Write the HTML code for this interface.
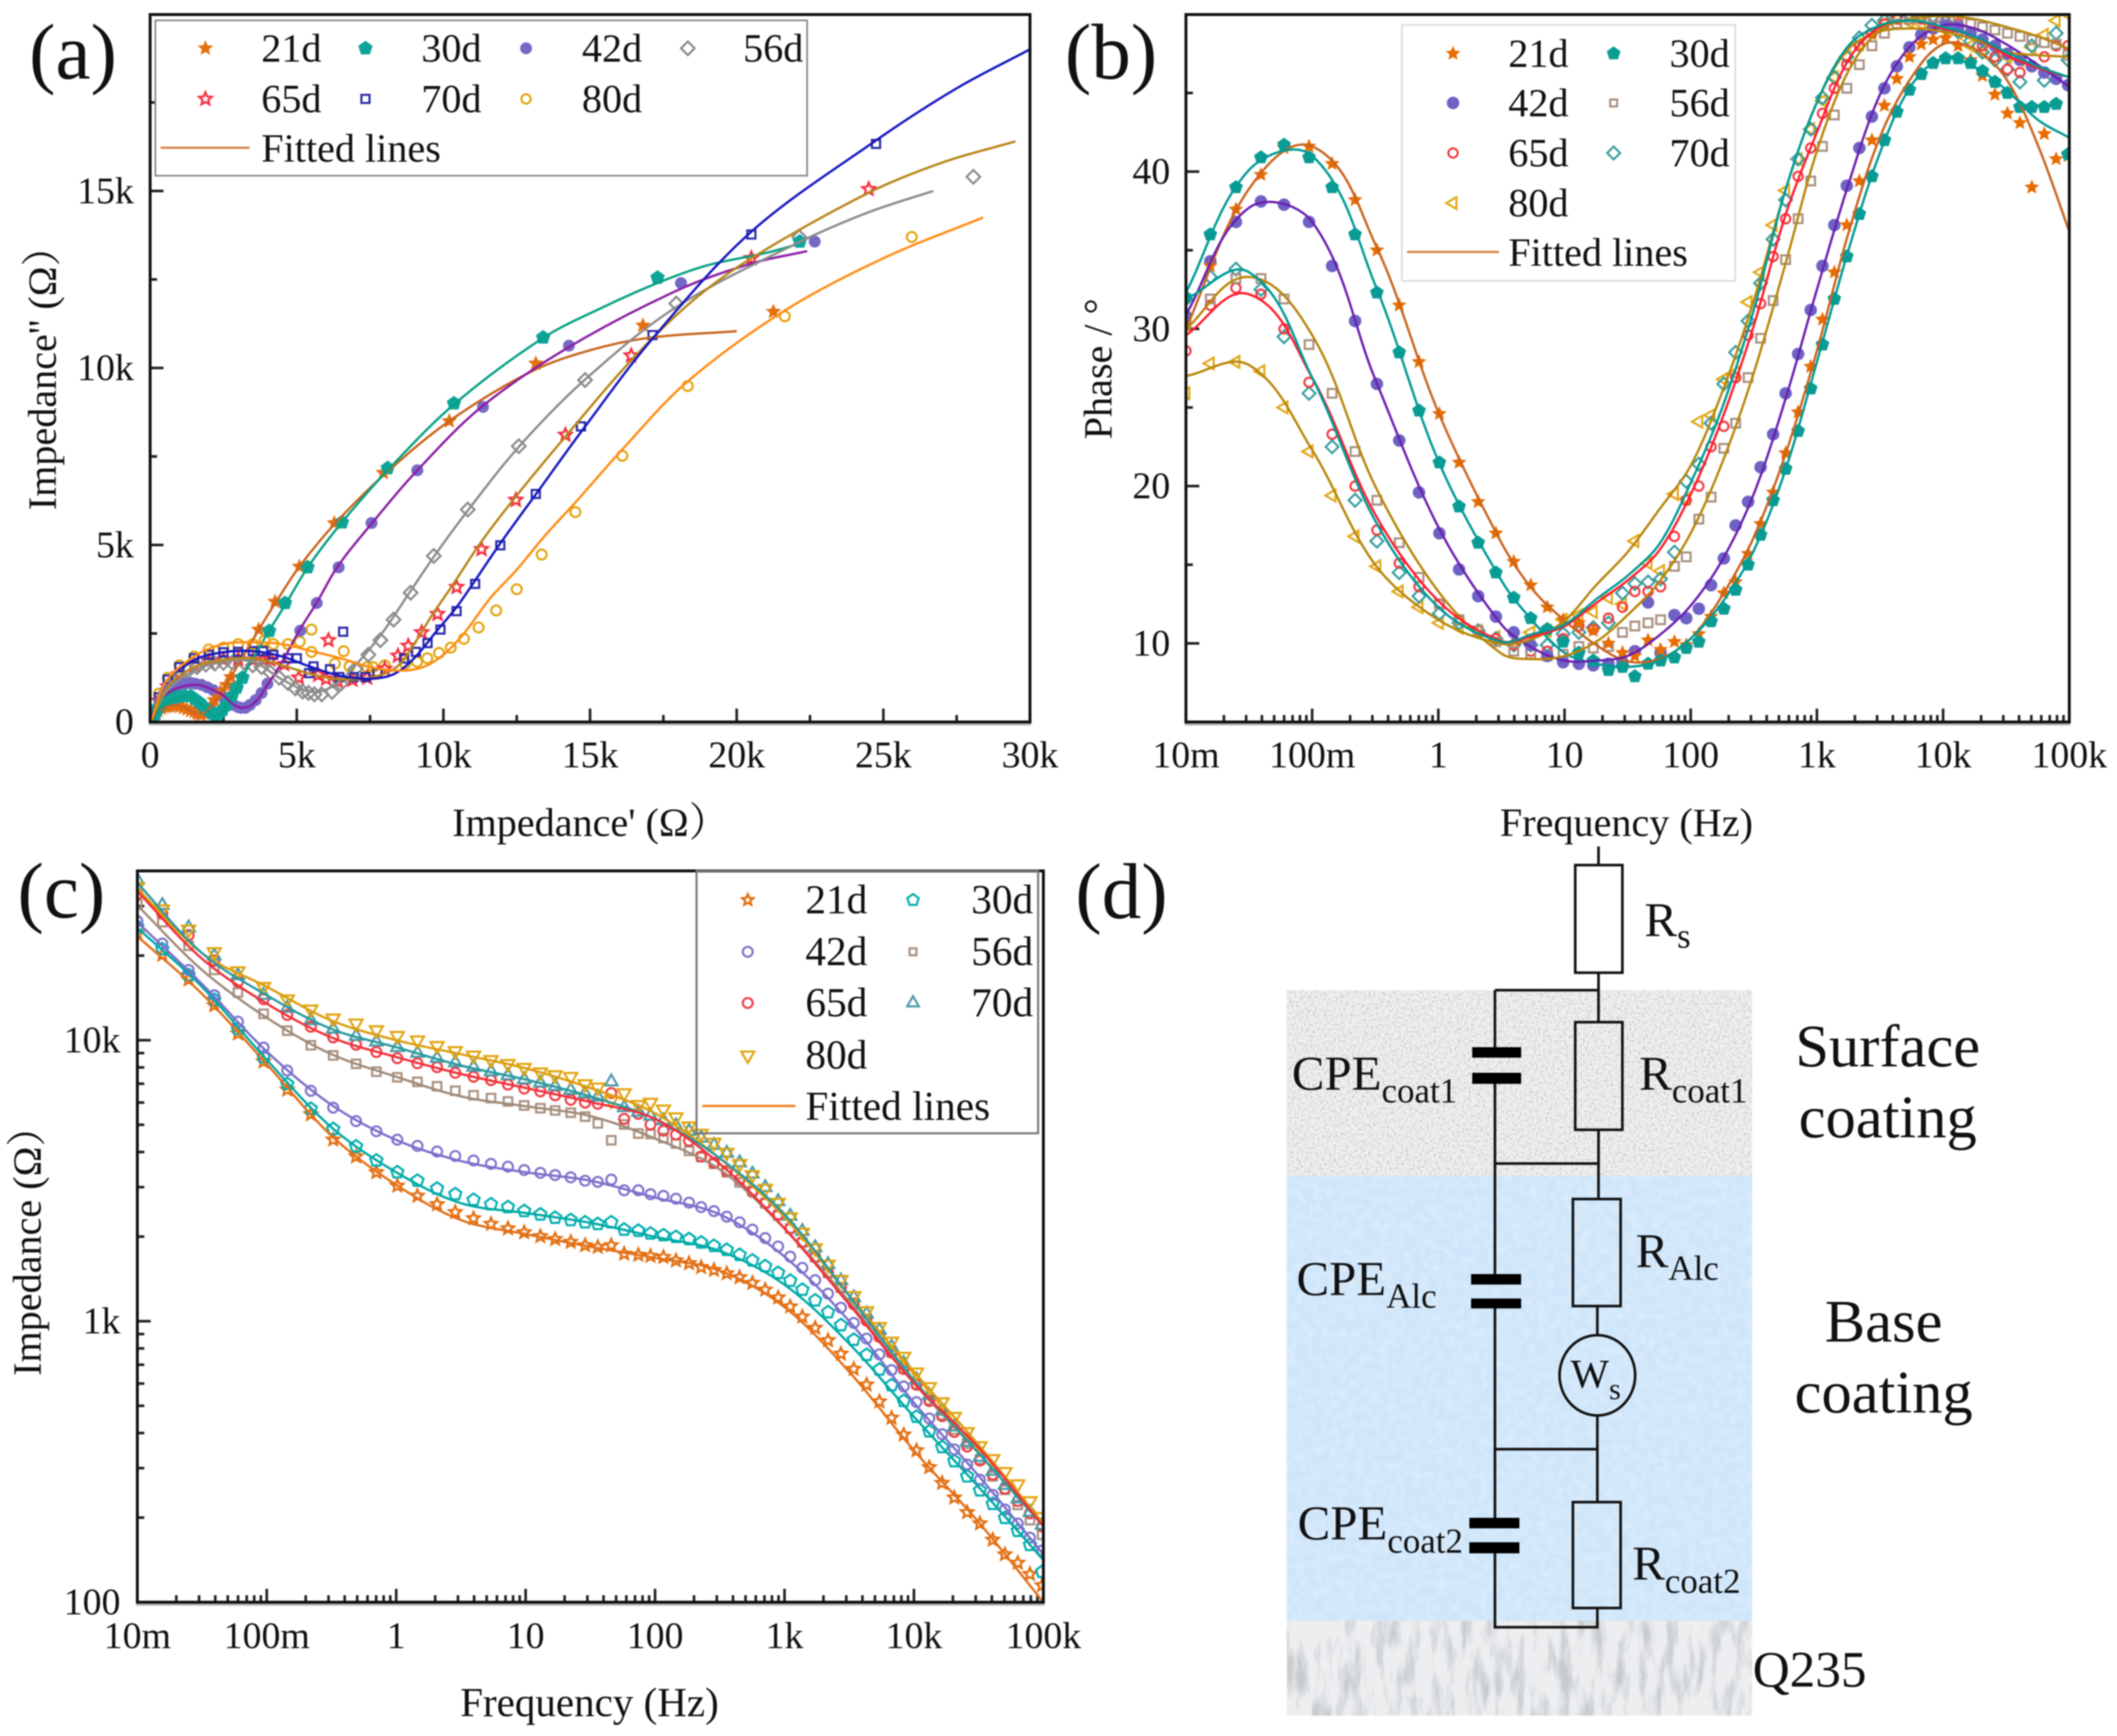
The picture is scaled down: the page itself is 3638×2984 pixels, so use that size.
<!DOCTYPE html>
<html lang="en">
<head>
<meta charset="utf-8">
<title>EIS chart panels</title>
<style>
html,body{margin:0;padding:0;background:#fff;width:3638px;height:2984px;overflow:hidden}
svg{display:block;filter:blur(1.1px)}
text{font-family:"Liberation Serif","Noto Serif CJK SC",serif;fill:#111}
.t{font-size:65px}
.a{font-size:69px}
.l{font-size:69px}
.lc{font-size:71px}
.p{font-size:136px}
</style>
</head>
<body>
<svg xmlns="http://www.w3.org/2000/svg" width="3638" height="2984" viewBox="0 0 3638 2984">
<defs>
<clipPath id="clipA"><rect x="258" y="25" width="1512" height="1216"/></clipPath>
<clipPath id="clipB"><rect x="2038" y="25" width="1518" height="1216"/></clipPath>
<clipPath id="clipC"><rect x="236" y="1497" width="1557" height="1257"/></clipPath>
<filter id="grain" x="0" y="0" width="100%" height="100%"><feTurbulence type="fractalNoise" baseFrequency="0.25" numOctaves="2" seed="3"/><feColorMatrix type="matrix" values="0 0 0 0 0.5 0 0 0 0 0.5 0 0 0 0 0.5 2 0 0 0 -0.9"/></filter>
<filter id="ripple" x="0" y="0" width="100%" height="100%"><feTurbulence type="fractalNoise" baseFrequency="0.07" numOctaves="3" seed="8"/><feColorMatrix type="matrix" values="0 0 0 0 1 0 0 0 0 1 0 0 0 0 1 1.6 0 0 0 -0.6"/></filter>
<filter id="marble" x="0" y="0" width="100%" height="100%"><feTurbulence type="fractalNoise" baseFrequency="0.05 0.012" numOctaves="4" seed="5"/><feColorMatrix type="matrix" values="0 0 0 0 0.58 0 0 0 0 0.6 0 0 0 0 0.62 3.2 0 0 0 -1.45"/></filter>
</defs>
<rect x="0" y="0" width="3638" height="2984" fill="#fff"/>

<!-- Panel (a) -->
<g>
<g id="axesA"></g>
<g clip-path="url(#clipA)">
<g id="mA"></g>
<g id="fA"></g>
</g>
<line x1="256" y1="1245" x2="1772" y2="1245" stroke="#b4b4b4" stroke-width="4"/>
<rect x="258" y="25" width="1512" height="1216" fill="none" stroke="#111" stroke-width="5"/>
<text class="p" x="50" y="135">(a)</text>
<text class="a" x="777" y="1437">Impedance' (Ω）</text>
<text class="a" transform="translate(96 877) rotate(-90)">Impedance'' (Ω）</text>
<g>
<rect x="267" y="35" width="1120" height="267" fill="#fff" stroke="#8a8a8a" stroke-width="3"/>
<g id="legA"></g>
<text class="l" x="449" y="106">21d</text>
<text class="l" x="724" y="106">30d</text>
<text class="l" x="1000" y="106">42d</text>
<text class="l" x="1277" y="106">56d</text>
<text class="l" x="449" y="193">65d</text>
<text class="l" x="724" y="193">70d</text>
<text class="l" x="1000" y="193">80d</text>
<line x1="276" y1="254" x2="429" y2="254" stroke="#d8884e" stroke-width="4"/>
<text class="l" x="449" y="278">Fitted lines</text>
</g>
</g>

<!-- Panel (b) -->
<g>
<g id="axesB"></g>
<g clip-path="url(#clipB)">
<g id="mB"></g>
<g id="fB"></g>
</g>
<line x1="2036" y1="1245" x2="3558" y2="1245" stroke="#b4b4b4" stroke-width="4"/>
<rect x="2038" y="25" width="1518" height="1216" fill="none" stroke="#111" stroke-width="5"/>
<text class="p" x="1830" y="135">(b)</text>
<text class="a" x="2795" y="1437" text-anchor="middle">Frequency (Hz)</text>
<text class="a" transform="translate(1910 634) rotate(-90)" text-anchor="middle">Phase / °</text>
<g>
<rect x="2409" y="43" width="573" height="440" fill="#fff" stroke="#dcdcdc" stroke-width="3"/>
<g id="legB"></g>
<text class="l" x="2592" y="115">21d</text>
<text class="l" x="2869" y="115">30d</text>
<text class="l" x="2592" y="200">42d</text>
<text class="l" x="2869" y="200">56d</text>
<text class="l" x="2592" y="286">65d</text>
<text class="l" x="2869" y="286">70d</text>
<text class="l" x="2592" y="372">80d</text>
<line x1="2418" y1="433" x2="2576" y2="433" stroke="#d8884e" stroke-width="4"/>
<text class="l" x="2592" y="457">Fitted lines</text>
</g>
</g>

<!-- Panel (c) -->
<g>
<g id="axesC"></g>
<g clip-path="url(#clipC)">
<g id="mC"></g>
<g id="fC"></g>
</g>
<line x1="234" y1="2758" x2="1795" y2="2758" stroke="#b4b4b4" stroke-width="4"/>
<rect x="236" y="1497" width="1557" height="1257" fill="none" stroke="#111" stroke-width="5"/>
<text class="p" x="30" y="1577">(c)</text>
<text class="a" style="font-size:70.5px" x="1013" y="2950" text-anchor="middle">Frequency (Hz)</text>
<text class="a" transform="translate(70 2365) rotate(-90)">Impedance (Ω）</text>
<g>
<rect x="1197" y="1497" width="587" height="451" fill="none" stroke="#777" stroke-width="3.5"/>
<g id="legC"></g>
<text class="lc" x="1384" y="1570">21d</text>
<text class="lc" x="1669" y="1570">30d</text>
<text class="lc" x="1384" y="1659">42d</text>
<text class="lc" x="1669" y="1659">56d</text>
<text class="lc" x="1384" y="1747">65d</text>
<text class="lc" x="1669" y="1747">70d</text>
<text class="lc" x="1384" y="1837">80d</text>
<line x1="1207" y1="1901" x2="1367" y2="1901" stroke="#f08020" stroke-width="4"/>
<text class="lc" x="1384" y="1925">Fitted lines</text>
</g>
</g>

<!-- Panel (d) -->
<g>
<text class="p" x="1848" y="1578">(d)</text>
<g>
<rect x="2211" y="1702" width="800" height="319" fill="#f0f0ee"/>
<rect x="2211" y="1702" width="800" height="319" filter="url(#grain)"/>
<rect x="2211" y="2021" width="800" height="765" fill="#cfe6fa"/>
<rect x="2211" y="2021" width="800" height="765" filter="url(#ripple)" opacity="0.35"/>
<rect x="2211" y="2786" width="800" height="163" fill="#eceef0"/>
<rect x="2211" y="2786" width="800" height="163" filter="url(#marble)"/>
</g>
<g fill="none" stroke="#111" stroke-width="4.5">
<path d="M2747 1455V1487M2747 1672V1757M2569 1702H2747M2569 1702V1800M2569 1863V2190M2569 2249V2609M2569 2670V2797H2745V2764M2747 1942V2061M2569 2000H2747M2745 2245V2295M2745 2435V2582M2569 2491H2745"/>
</g>
<g fill="none" stroke="#111" stroke-width="4.5">
<rect x="2707" y="1487" width="81" height="185"/>
<rect x="2707" y="1757" width="81" height="185"/>
<rect x="2703" y="2061" width="82" height="184"/>
<rect x="2703" y="2582" width="82" height="182"/>
<ellipse cx="2745" cy="2364" rx="65" ry="69"/>
</g>
<g fill="#000">
<rect x="2530" y="1800" width="84" height="18"/>
<rect x="2530" y="1844" width="84" height="19"/>
<rect x="2528" y="2190" width="86" height="18"/>
<rect x="2528" y="2232" width="86" height="17"/>
<rect x="2525" y="2609" width="86" height="18"/>
<rect x="2525" y="2651" width="86" height="19"/>
</g>
<g font-size="84">
<text x="2826" y="1609">R<tspan font-size="60" dy="20">s</tspan></text>
<text x="2220" y="1873">CPE<tspan font-size="60" dy="22">coat1</tspan></text>
<text x="2817" y="1873">R<tspan font-size="60" dy="22">coat1</tspan></text>
<text x="2228" y="2226">CPE<tspan font-size="60" dy="22">Alc</tspan></text>
<text x="2811" y="2178">R<tspan font-size="60" dy="22">Alc</tspan></text>
<text x="2699" y="2385" font-size="70">W<tspan font-size="52" dy="20">s</tspan></text>
<text x="2230" y="2646">CPE<tspan font-size="60" dy="23">coat2</tspan></text>
<text x="2805" y="2715">R<tspan font-size="60" dy="23">coat2</tspan></text>
</g>
<g font-size="104" text-anchor="middle">
<text x="3244" y="1833">Surface</text>
<text x="3244" y="1955">coating</text>
<text x="3237" y="2306">Base</text>
<text x="3237" y="2428">coating</text>
</g>
<text x="3012" y="2899" font-size="88">Q235</text>
</g>

<script>
// ---------- Panel (a) data: real / imaginary impedance in kilo-ohm ----------
const nyTicks = [0, 5, 10, 15, 20, 25, 30];
const nyTickLabels = ['0', '5k', '10k', '15k', '20k', '25k', '30k'];
const nyMinorTicks = [2.5, 7.5, 12.5, 17.5, 22.5, 27.5];
const nyYTicks = [0, 5, 10, 15];
const nyYTickLabels = ['0', '5k', '10k', '15k'];
const nyYMinorTicks = [2.5, 7.5, 12.5, 17.5];

const a21x = [.07,.12,.18,.27,.38,.48,.58,.68,.78,.88,1.0,1.13,1.25,1.38,1.5,1.59,1.66,1.74,1.84,1.94,2.05,2.19,2.4,2.6,2.75,3.7,4.26,5.09,6.28,7.95,10.2,13.15,16.8,21.25];
const a21y = [.10,.17,.24,.32,.38,.42,.43,.45,.46,.46,.43,.40,.36,.32,.29,.25,.23,.21,.24,.29,.42,.62,.85,1.05,1.27,2.61,3.4,4.39,5.62,7.04,8.5,10.13,11.2,11.59];
const a30x = [.1,.18,.28,.4,.55,.7,.85,1.0,1.18,1.38,1.52,1.68,1.84,2.0,2.12,2.19,2.24,2.33,2.47,2.6,2.78,2.95,3.15,4.06,4.6,5.37,6.54,8.1,10.36,13.4,17.3,22.15];
const a30y = [.1,.25,.4,.52,.6,.66,.7,.72,.73,.73,.65,.55,.42,.32,.25,.23,.15,.22,.34,.48,.72,.97,1.25,2.57,3.36,4.37,5.64,7.17,9.0,10.86,12.55,13.57];
const a42x = [.1,.2,.32,.46,.62,.8,1.0,1.2,1.4,1.54,1.75,1.95,2.15,2.35,2.5,2.7,2.85,3.0,3.1,3.25,3.4,3.6,3.8,4.0,5.12,5.68,6.43,7.55,9.11,11.35,14.28,18.1,22.66];
const a42y = [.12,.34,.58,.77,.92,1.0,1.05,1.08,1.1,1.08,1.05,.98,.9,.8,.7,.64,.48,.42,.4,.4,.48,.62,.82,1.08,2.58,3.36,4.37,5.62,7.11,8.9,10.63,12.4,13.57];
const a56x = [.1,.25,.45,.7,1.0,1.3,1.6,1.9,2.2,2.5,2.8,3.2,3.5,3.8,4.1,4.4,4.7,4.95,5.2,5.4,5.6,5.85,6.2,6.5,7.0,7.44,7.85,8.3,8.88,9.67,10.83,12.57,14.83,17.94,22.13,28.07];
const a56y = [.1,.35,.7,1.0,1.25,1.45,1.55,1.62,1.65,1.67,1.68,1.68,1.6,1.55,1.4,1.25,1.1,.95,.86,.82,.78,.78,.85,1.08,1.5,1.9,2.31,2.89,3.65,4.69,6.0,7.79,9.66,11.82,13.7,15.4];
const a65x = [.1,.3,.6,1,1.5,2,2.5,3,3.5,3.85,4.1,4.57,5.07,6.08,5.73,6,6.4,6.9,7.4,8,8.45,8.8,9.26,9.8,10.45,11.3,12.47,14.16,16.4,20.5,24.5];
const a65y = [.2,.6,1.0,1.35,1.6,1.72,1.76,1.78,1.75,1.75,1.76,1.63,1.25,2.31,1.33,1.22,1.15,1.19,1.25,1.5,1.87,2.15,2.53,3.05,3.81,4.88,6.27,8.11,10.35,13.1,15.05];
const a70x = [.1,.3,.6,1,1.5,2,2.5,3,3.5,3.85,4.2,4.7,5,5.57,5.42,6.58,6.13,6.45,6.94,7.34,7.75,8.66,9.06,9.46,9.9,10.45,11.08,11.94,13.15,14.69,17.13,20.5,24.75];
const a70y = [.2,.7,1.2,1.55,1.8,1.9,1.97,1.98,2.0,2.0,1.9,1.8,1.8,1.57,1.38,2.55,1.49,1.27,1.27,1.27,1.38,1.79,1.98,2.23,2.61,3.13,3.9,4.99,6.44,8.35,10.93,13.77,16.33];
const a80x = [.1,.3,.6,1,1.5,2,2.5,3,3.5,3.9,4.2,4.7,5.1,5.5,5.5,6.6,6.3,6.8,7.4,7.6,8,8.7,9.1,9.45,9.85,10.25,10.7,11.2,11.8,12.5,13.35,14.5,16.1,18.33,21.64,25.97];
const a80y = [.25,.8,1.25,1.6,1.85,2.05,2.1,2.2,2.2,2.3,2.2,2.2,2.27,2.61,1.98,2,1.65,1.57,1.55,1.55,1.6,1.65,1.7,1.8,1.95,2.1,2.35,2.67,3.15,3.75,4.73,5.93,7.52,9.49,11.46,13.7];

const fa21x = [.05,.35,.87,1.3,1.7,2.2,2.7,3.7,4.3,5.1,6.3,8,10.2,13,15,17,20];
const fa21y = [.05,.33,.48,.36,.22,.55,1.2,2.6,3.4,4.4,5.6,7.0,8.5,9.9,10.5,10.85,11.04];
const fa30x = [.05,.5,1.3,1.8,2.25,2.7,3.2,4,4.6,5.4,6.6,8.2,10.4,13.4,15.4,17.3,19,21,22.1];
const fa30y = [0,.5,.73,.45,.17,.6,1.35,2.5,3.3,4.4,5.7,7.2,9,10.85,11.7,12.4,12.9,13.25,13.5];
const fa42x = [.05,.5,1.5,2.4,3.0,3.5,4.0,4.5,5.1,5.7,6.4,7.6,9.1,11.3,14.3,18,20.5,22.4];
const fa42y = [.02,.75,1.05,.8,.42,.5,1.05,1.7,2.6,3.4,4.4,5.65,7.1,8.9,10.6,12.2,12.95,13.3];
const fa56x = [.05,.6,1.5,2.5,3.5,4.5,5.5,6.2,7,7.9,8.8,9.7,10.9,12.6,14.8,17.9,22,24.5,26.7];
const fa56y = [.1,.9,1.45,1.7,1.7,1.2,.85,1.0,1.6,2.5,3.6,4.7,6.05,7.8,9.65,11.7,13.5,14.4,15.0];
const fa65x = [.05,.6,1.5,2.5,3.5,4.5,5.5,6.5,7.5,8.4,9,9.6,10.3,11.3,12.5,14.2,16.5,18.5,20.5,24.5,27,29.5];
const fa65y = [.05,1.0,1.55,1.75,1.8,1.6,1.35,1.2,1.25,1.55,2.2,3,3.85,5.1,6.4,8.1,10.3,11.9,13.1,14.95,15.8,16.4];
const fa70x = [.05,.5,1.5,2.5,3.5,4.5,5.5,6.5,7.5,8.3,9,9.8,10.5,11.9,13.3,14.7,17.1,20.5,24.7,27.5,30];
const fa70y = [.1,1.1,1.75,1.97,2,1.85,1.55,1.3,1.22,1.35,1.8,2.6,3.3,5,6.6,8.2,10.8,13.85,16.4,17.9,19];
const fa80x = [.05,.5,1.5,2.5,3.5,4.5,5.5,6.5,7.5,8.5,9.3,10,10.7,11.6,12.5,13.5,14.5,16.1,18.3,21.6,25,28.4];
const fa80y = [.05,1.1,1.85,2.2,2.25,2.2,2.0,1.8,1.55,1.45,1.55,1.9,2.5,3.5,4.3,5.3,6.2,7.7,9.6,11.6,13.1,14.25];

// ---------- Shared frequency data (Hz) ----------
const freqs = [0.01,0.0156,0.0249,0.0393,0.0599,0.0945,0.144,0.219,0.326,0.49,0.703,1.02,1.46,2.07,2.86,3.96,5.4,7.3,9.75,13,16.9,22.3,28.8,36.1,45.9,57.7,74.3,92.2,116,145,183,227,285,358,450,565,710,893,1107,1374,1726,2170,2729,3428,4305,5408,6714,8340,10470,13150,16520,20500,25760,32360,40640,50470,63390,78700,97700];
const fitFreqs = [0.01,0.0316,0.1,0.316,1,3.16,10,31.6,100,316,1000,3160,10000,31600,100000];
const phaseFitFreqs = [0.01,0.0316,0.1,0.316,1,3.16,5.62,10,17.8,31.6,56.2,100,178,316,562,1000,1778,3162,5623,10000,17783,31623,56234,100000];
const freqTicks = [0.01,0.1,1,10,100,1000,10000,100000];
const freqTickLabels = ['10m','100m','1','10','100','1k','10k','100k'];
const minorMultipliers = [2,3,4,5,6,7,8,9];

// ---------- Panel (b) data: phase in degrees ----------
const phaseTicks = [10,20,30,40];
const phaseTickLabels = ['10','20','30','40'];
const phaseMinorTicks = [15,25,35,45];
const p21 = [30.2,34,37.6,39.8,41.5,41.6,40.5,38.2,35,31.5,27.9,24.6,21.5,19,17,15.2,13.7,12.3,11.5,11.3,10.8,10,9.4,9.2,10.2,9.6,10.1,9.9,10.6,11.7,13.2,13.9,15.7,17.6,19.6,22.1,24.7,27.6,30.6,33.6,36.6,39.4,42,44.2,45.9,47.3,48.1,48.4,48.5,48,47.1,46.1,44.9,43.7,43.1,39,42.4,40.8,41];
const p30 = [32,36,39,40.9,41.7,40.9,39,36,32.3,28.5,24.8,21.5,18.7,16.4,14.5,12.9,11.6,10.9,10.1,9.4,8.9,8.3,8.5,7.9,8.7,8.9,9.1,9.7,10.1,11.4,12.2,13.4,15,16.9,19.1,21.1,23.5,26.2,29,31.9,34.6,37.3,39.7,42,43.8,45.2,46.2,46.9,47.2,47.2,46.9,46.4,45.7,45,44.1,44.1,44.1,44.3,41.1];
const p42 = [30.8,34.3,36.8,38.1,37.9,36.8,34,30.5,26.5,22.9,19.6,17,14.7,13,11.7,10.7,9.9,9.2,8.8,8.7,8.6,8.7,8.8,9.5,12.6,9.4,11.8,11.6,12.2,13.7,15.4,17.5,19,21.2,23.3,25.9,28.4,31.2,34,36.6,39.1,41.5,43.5,45.3,46.7,47.9,48.7,49.1,49.3,49.2,48.8,48.4,48,47.5,47.1,46.7,46.3,45.9,45.5];
const p56 = [30.3,31.9,33.2,33.2,31.9,29,25.9,22.2,19.1,16.4,14.2,12.5,11.5,10.8,10.1,9.5,9.3,9.2,9.3,9.8,9.7,9.8,10.7,11.1,11.3,11.5,14.9,15.5,17.9,19.3,22.4,24,26.9,29.4,31.8,34.4,37,39.4,41.6,43.6,45.3,46.8,48,48.8,49.4,49.7,49.8,49.8,49.7,49.6,49.4,49.2,49,48.8,48.6,48.4,48.2,48.1,47.4];
const p65 = [28.6,31.5,32.6,32.2,30,26.6,23.3,20,17.2,15.1,13.6,12.5,11.5,10.8,10.3,9.9,9.5,9.5,10.3,11.1,10.9,11.6,12.3,13.3,13.3,13.6,16.8,19.1,20,22.5,23.8,26.9,29.6,31.6,34.6,37,39.7,41.5,43.7,45.3,46.8,48,48.8,49.4,49.7,49.7,49.7,49.8,49.6,49.4,48.8,48,47.3,46.5,46.3,46.7,47.3,48,48];
const p70 = [31.9,33.3,33.8,32.5,29.5,25.9,22.5,19.1,16.5,14.5,13,11.9,11.3,10.8,10.3,9.9,9.9,9.9,10.6,10.7,11,11.3,13.2,13.8,13.9,14.1,15.8,20.3,21.4,24,26.5,28.5,30.5,32.9,35.7,38.2,40.8,42.7,44.7,46,47.3,48.5,49.3,49.6,49.9,50,49.9,49.9,49.5,48.9,48.3,47.6,47.1,46.5,45.7,48,45.8,48.8,47.1];
const p80 = [25.9,27.8,27.9,27.3,25,22.2,19.4,16.8,14.9,13.3,12.3,11.3,11,10.8,10.4,10,10.7,10.8,11.5,11.8,12,12.9,12.5,16.5,15.1,14.6,19.5,19.2,24.1,24.5,26.8,27.2,31.7,33.6,36.6,38.8,40.8,42.7,44.5,46,47.3,48.1,48.8,49.4,49.7,49.5,49.4,49.2,49,48.8,48,47.6,48,47.3,47.1,47.9,48.7,49.6,50];
const fp21 = [30,38.9,41.6,35.4,24.7,16.4,13.4,11.45,9.9,8.86,9,10.3,13.05,16.75,22,28.6,36.1,42.2,46,48.1,47.8,45.9,41.7,36.2];
const fp30 = [32.3,40.1,41,32.8,21.6,14,11.4,9.4,8.7,8.5,8.9,10.3,12.6,15.9,21,27.9,35,41.2,45.5,47.2,46.65,45.2,43.3,42.15];
const fp42 = [30.9,37.7,36.8,26.8,17.4,11.2,9.7,8.9,8.9,9.2,10.5,12.4,15.3,19.5,25.5,32.5,39.2,44.9,48.07,49.3,49.1,48.1,46.8,45.4];
const fp56 = [30,33.3,29.6,20,13.3,9.35,9,9.2,10.1,11.8,13.9,17,21.5,27.2,34.1,41.3,46.4,49,49.7,49.9,49.7,49.2,48.6,47.8];
const fp65 = [29.6,32.2,26.9,18.2,12.7,10.15,10.46,11.1,12.56,14,15.9,19.47,24.3,30.2,37.2,42.5,47.1,49.2,49.6,49.1,48.6,47.4,46.6,46];
const fp70 = [31.9,33.6,26.9,17.8,12.3,10.1,10.6,11.2,12.8,14.3,16.3,20.2,25,31.2,38.8,44.4,48,49.3,49.6,49.2,48.6,47.6,46.7,46];
const fp80 = [27,27.7,22.3,15,11.5,9.97,10.3,11.45,13.7,15.8,18.5,21.3,26,31.8,38.8,44.4,47.8,48.9,49.1,48.9,48.4,47.6,47.4,47.3];

// ---------- Panel (c) data: log10 of |Z| in ohm ----------
const impTicks = [100,1000,10000];
const impTickLabels = ['100','1k','10k'];
const z21 = [4.38,4.304,4.216,4.124,4.024,3.924,3.824,3.736,3.646,3.586,3.53,3.482,3.446,3.416,3.388,3.366,3.346,3.33,3.316,3.302,3.292,3.282,3.27,3.264,3.27,3.24,3.236,3.232,3.228,3.216,3.206,3.192,3.182,3.17,3.156,3.136,3.112,3.084,3.052,3.016,2.976,2.932,2.884,2.83,2.774,2.714,2.656,2.596,2.54,2.48,2.424,2.372,2.32,2.28,2.222,2.17,2.14,2.10,2.06];
const z30 = [4.404,4.324,4.232,4.144,4.04,3.94,3.844,3.756,3.684,3.622,3.572,3.53,3.5,3.472,3.452,3.432,3.416,3.406,3.392,3.38,3.368,3.36,3.352,3.346,3.352,3.326,3.322,3.312,3.306,3.3,3.292,3.28,3.268,3.254,3.236,3.216,3.196,3.172,3.144,3.112,3.074,3.032,2.986,2.934,2.88,2.828,2.772,2.716,2.66,2.608,2.552,2.502,2.448,2.398,2.35,2.3,2.254,2.204,2.108];
const z42 = [4.424,4.344,4.25,4.16,4.066,3.974,3.892,3.82,3.76,3.712,3.676,3.646,3.624,3.604,3.588,3.572,3.56,3.55,3.538,3.528,3.52,3.512,3.5,3.496,3.504,3.466,3.466,3.452,3.446,3.436,3.422,3.406,3.392,3.372,3.352,3.326,3.296,3.266,3.23,3.19,3.146,3.098,3.048,2.994,2.938,2.882,2.826,2.768,2.712,2.654,2.598,2.544,2.49,2.436,2.382,2.33,2.28,2.23,2.184];
const z56 = [4.484,4.42,4.336,4.25,4.17,4.094,4.034,3.982,3.946,3.916,3.888,3.868,3.852,3.836,3.82,3.804,3.794,3.782,3.768,3.758,3.75,3.742,3.728,3.704,3.644,3.7,3.668,3.666,3.652,3.632,3.606,3.584,3.56,3.53,3.494,3.464,3.42,3.376,3.33,3.28,3.228,3.172,3.12,3.066,3.008,2.948,2.89,2.832,2.776,2.72,2.666,2.614,2.564,2.508,2.448,2.4,2.346,2.292,2.24];
const z65 = [4.52,4.45,4.374,4.284,4.208,4.146,4.09,4.048,4.01,3.984,3.958,3.936,3.918,3.904,3.884,3.87,3.858,3.842,3.828,3.818,3.804,3.788,3.778,3.774,3.812,3.72,3.738,3.7,3.678,3.664,3.642,3.586,3.564,3.534,3.504,3.46,3.42,3.38,3.33,3.282,3.228,3.172,3.118,3.06,3.002,2.944,2.888,2.83,2.774,2.716,2.662,2.606,2.554,2.504,2.454,2.404,2.36,2.316,2.27];
const z70 = [4.57,4.48,4.4,4.3,4.23,4.16,4.114,4.07,4.04,4.014,3.994,3.974,3.954,3.936,3.92,3.904,3.888,3.874,3.86,3.848,3.836,3.822,3.81,3.798,3.852,3.76,3.744,3.73,3.714,3.696,3.676,3.652,3.626,3.598,3.564,3.524,3.476,3.426,3.374,3.32,3.262,3.202,3.144,3.084,3.026,2.968,2.908,2.85,2.792,2.736,2.68,2.624,2.57,2.516,2.466,2.416,2.368,2.32,2.274];
const z80 = [4.546,4.466,4.394,4.314,4.246,4.19,4.146,4.11,4.078,4.06,4.036,4.016,4,3.98,3.962,3.946,3.93,3.916,3.902,3.886,3.876,3.87,3.844,3.832,3.786,3.812,3.77,3.778,3.754,3.726,3.694,3.668,3.636,3.6,3.56,3.52,3.472,3.422,3.37,3.316,3.26,3.202,3.148,3.09,3.036,2.98,2.928,2.874,2.818,2.766,2.712,2.66,2.606,2.556,2.51,2.464,2.42,2.36,2.304];
const fz21 = [4.37,4.165,3.915,3.66,3.485,3.36,3.31,3.265,3.225,3.18,3.05,2.82,2.54,2.285,2.0];
const fz30 = [4.40,4.19,3.93,3.69,3.53,3.42,3.385,3.35,3.30,3.25,3.13,2.92,2.66,2.41,2.15];
const fz42 = [4.42,4.20,3.96,3.77,3.645,3.57,3.53,3.50,3.44,3.38,3.23,3.00,2.71,2.45,2.17];
const fz56 = [4.48,4.25,4.08,3.95,3.87,3.80,3.765,3.73,3.65,3.54,3.33,3.07,2.78,2.53,2.27];
const fz65 = [4.53,4.29,4.13,4.01,3.94,3.88,3.83,3.78,3.72,3.56,3.33,3.06,2.78,2.55,2.27];
const fz70 = [4.56,4.31,4.16,4.04,3.975,3.91,3.86,3.80,3.72,3.58,3.38,3.09,2.79,2.53,2.27];
const fz80 = [4.54,4.31,4.19,4.07,4.0,3.95,3.90,3.83,3.74,3.58,3.37,3.09,2.82,2.56,2.28];

// ---------- Axis functions ----------
const SVGNS = 'http://www.w3.org/2000/svg';
const xA = v => 258 + v * 1512 / 30;
const yA = v => 1241 - v * 60.85;
const xB = f => 2038 + (Math.log10(f) + 2) * 1518 / 7;
const yB = v => 1241 - (v - 5) * 27.03;
const xC = f => 236 + (Math.log10(f) + 2) * 1557 / 7;
const yC = v => 2754 - (v - 2) * 483;

function addTick(parent, x1, y1, x2, y2) {
  const el = document.createElementNS(SVGNS, 'line');
  el.setAttribute('x1', x1); el.setAttribute('y1', y1);
  el.setAttribute('x2', x2); el.setAttribute('y2', y2);
  el.setAttribute('stroke', '#222');
  el.setAttribute('stroke-width', '4.5');
  
  
  parent.appendChild(el);
}
function addLabel(parent, x, y, str, anchor) {
  const el = document.createElementNS(SVGNS, 'text');
  el.setAttribute('x', x); el.setAttribute('y', y);
  el.setAttribute('class', 't');
  el.setAttribute('text-anchor', anchor);
  el.textContent = str;
  
  
  parent.appendChild(el);
}
function polyPoints(n, cx, cy, r, inner, rot) {
  const pts = [];
  const count = inner ? n * 2 : n;
  for (let i = 0; i < count; i++) {
    const rad = inner && i % 2 ? r * inner : r;
    const a = rot + i * 2 * Math.PI / count;
    pts.push((cx + rad * Math.sin(a)).toFixed(1) + ',' + (cy - rad * Math.cos(a)).toFixed(1));
  }
  return pts.join(' ');
}
function addMarker(parent, kind, x, y, r, color, filled) {
  let el;
  if (kind === 'circle') {
    el = document.createElementNS(SVGNS, 'circle');
    el.setAttribute('cx', x); el.setAttribute('cy', y); el.setAttribute('r', r);
  } else {
    el = document.createElementNS(SVGNS, 'polygon');
    let pts = '';
    if (kind === 'star') pts = polyPoints(5, x, y, r * 1.35, 0.45, 0);
    if (kind === 'pent') pts = polyPoints(5, x, y, r * 1.15, 0, 0);
    if (kind === 'diamond') pts = polyPoints(4, x, y, r * 1.3, 0, 0);
    if (kind === 'square') pts = polyPoints(4, x, y, r * 1.2, 0, Math.PI / 4);
    if (kind === 'tridown') pts = polyPoints(3, x, y, r * 1.3, 0, Math.PI);
    if (kind === 'triup') pts = polyPoints(3, x, y, r * 1.3, 0, 0);
    if (kind === 'trileft') pts = polyPoints(3, x, y, r * 1.3, 0, -Math.PI / 2);
    el.setAttribute('points', pts);
  }
  el.setAttribute('fill', filled ? color : 'none');
  el.setAttribute('stroke', color);
  el.setAttribute('stroke-width', filled ? '1.5' : '3.6');
  
  
  parent.appendChild(el);
}
function addFit(parent, xs, ys, fx, fy, color, width) {
  const p = xs.map((v, i) => [fx(v), fy(ys[i])]);
  let d = 'M' + p[0][0].toFixed(1) + ' ' + p[0][1].toFixed(1);
  const tangent = i => {
    const a = p[Math.max(i - 1, 0)], b = p[Math.min(i + 1, p.length - 1)];
    const dx = b[0] - a[0], dy = b[1] - a[1], n = Math.hypot(dx, dy) || 1;
    return [dx / n, dy / n];
  };
  for (let i = 0; i < p.length - 1; i++) {
    const len = Math.hypot(p[i + 1][0] - p[i][0], p[i + 1][1] - p[i][1]) / 3;
    const t0 = tangent(i), t1 = tangent(i + 1);
    d += 'C' + (p[i][0] + t0[0] * len).toFixed(1) + ' ' + (p[i][1] + t0[1] * len).toFixed(1) + ' ' +
      (p[i + 1][0] - t1[0] * len).toFixed(1) + ' ' + (p[i + 1][1] - t1[1] * len).toFixed(1) + ' ' +
      p[i + 1][0].toFixed(1) + ' ' + p[i + 1][1].toFixed(1);
  }
  const el = document.createElementNS(SVGNS, 'path');
  el.setAttribute('d', d);
  el.setAttribute('fill', 'none');
  el.setAttribute('stroke', color);
  el.setAttribute('stroke-width', width);
  
  
  parent.appendChild(el);
}
function addSeries(parent, xs, ys, fx, fy, kind, r, color, filled) {
  for (let i = 0; i < xs.length && i < ys.length; i++) {
    addMarker(parent, kind, fx(xs[i]), fy(ys[i]), r, color, filled);
  }
}
function logTicks(axes, fx, y0, baseline) {
  freqTicks.forEach((f, i) => {
    addTick(axes, fx(f), y0, fx(f), y0 - 23);
    addLabel(axes, fx(f), baseline, freqTickLabels[i], 'middle');
    if (i < freqTicks.length - 1) {
      minorMultipliers.forEach(m => addTick(axes, fx(f * m), y0, fx(f * m), y0 - 12));
    }
  });
}

// ---------- Panel (a) ----------
const axesA = document.getElementById('axesA');
nyTicks.forEach((v, i) => {
  addTick(axesA, xA(v), 1241, xA(v), 1218);
  addLabel(axesA, xA(v), 1319, nyTickLabels[i], 'middle');
});
nyMinorTicks.forEach(v => addTick(axesA, xA(v), 1241, xA(v), 1229));
nyYTicks.forEach((v, i) => {
  addTick(axesA, 258, yA(v), 281, yA(v));
  addLabel(axesA, 230, yA(v) + 21, nyYTickLabels[i], 'end');
});
nyYMinorTicks.forEach(v => addTick(axesA, 258, yA(v), 270, yA(v)));
const mA = document.getElementById('mA');
const fA = document.getElementById('fA');
addSeries(mA, a80x, a80y, xA, yA, 'circle', 8.5, '#e2a40e', false);
addSeries(mA, a65x, a65y, xA, yA, 'star', 8.5, '#f5303f', false);
addSeries(mA, a56x, a56y, xA, yA, 'diamond', 9, '#8a8a8a', false);
addSeries(mA, a70x, a70y, xA, yA, 'square', 8.2, '#2a2aa6', false);
addSeries(mA, a42x, a42y, xA, yA, 'circle', 9.5, '#7568c6', true);
addSeries(mA, a21x, a21y, xA, yA, 'star', 9, '#e46f10', true);
addSeries(mA, a30x, a30y, xA, yA, 'pent', 10.5, '#0ea49a', true);
addFit(fA, fa21x, fa21y, xA, yA, '#c9661f', 4);
addFit(fA, fa30x, fa30y, xA, yA, '#06a184', 4);
addFit(fA, fa42x, fa42y, xA, yA, '#8c1fa4', 4);
addFit(fA, fa56x, fa56y, xA, yA, '#8c8c8c', 4);
addFit(fA, fa65x, fa65y, xA, yA, '#b8861a', 4);
addFit(fA, fa70x, fa70y, xA, yA, '#1616c2', 4);
addFit(fA, fa80x, fa80y, xA, yA, '#ff8c14', 4);
const legA = document.getElementById('legA');
addMarker(legA, 'star', 353, 83, 9, '#e46f10', true);
addMarker(legA, 'pent', 628, 83, 10.5, '#0ea49a', true);
addMarker(legA, 'circle', 904, 83, 9.5, '#7568c6', true);
addMarker(legA, 'diamond', 1182, 83, 9, '#8a8a8a', false);
addMarker(legA, 'star', 353, 170, 8.5, '#f5303f', false);
addMarker(legA, 'square', 628, 170, 8.2, '#2a2aa6', false);
addMarker(legA, 'circle', 904, 170, 8, '#e2a40e', false);

// ---------- Panel (b) ----------
const axesB = document.getElementById('axesB');
logTicks(axesB, xB, 1241, 1319);
phaseTicks.forEach((v, i) => {
  addTick(axesB, 2038, yB(v), 2061, yB(v));
  addLabel(axesB, 2011, yB(v) + 21, phaseTickLabels[i], 'end');
});
phaseMinorTicks.forEach(v => addTick(axesB, 2038, yB(v), 2050, yB(v)));
const mB = document.getElementById('mB');
const fB = document.getElementById('fB');
addSeries(mB, freqs, p80, xB, yB, 'trileft', 9, '#e2a818', false);
addSeries(mB, freqs, p70, xB, yB, 'diamond', 8.5, '#3a9ea0', false);
addSeries(mB, freqs, p65, xB, yB, 'circle', 8, '#f03a40', false);
addSeries(mB, freqs, p56, xB, yB, 'square', 8.8, '#a89080', false);
addSeries(mB, freqs, p42, xB, yB, 'circle', 10, '#6e62c4', true);
addSeries(mB, freqs, p21, xB, yB, 'star', 8.5, '#e86c00', true);
addSeries(mB, freqs, p30, xB, yB, 'pent', 10, '#0a9c94', true);
addFit(fB, phaseFitFreqs, fp21, xB, yB, '#c9641e', 4);
addFit(fB, phaseFitFreqs, fp30, xB, yB, '#009a96', 4);
addFit(fB, phaseFitFreqs, fp42, xB, yB, '#6a1fb0', 4);
addFit(fB, phaseFitFreqs, fp56, xB, yB, '#b8860b', 4);
addFit(fB, phaseFitFreqs, fp80, xB, yB, '#b8860b', 4);
addFit(fB, phaseFitFreqs, fp65, xB, yB, '#ff1e2e', 4);
addFit(fB, phaseFitFreqs, fp70, xB, yB, '#009a96', 4);
const legB = document.getElementById('legB');
addMarker(legB, 'star', 2497, 92, 8.5, '#e86c00', true);
addMarker(legB, 'pent', 2773, 92, 10, '#0a9c94', true);
addMarker(legB, 'circle', 2497, 177, 10, '#6e62c4', true);
addMarker(legB, 'square', 2773, 177, 7, '#a89080', false);
addMarker(legB, 'circle', 2497, 263, 8, '#f03a40', false);
addMarker(legB, 'diamond', 2773, 263, 8.5, '#3a9ea0', false);
addMarker(legB, 'trileft', 2497, 349, 9, '#e2a818', false);

// ---------- Panel (c) ----------
const axesC = document.getElementById('axesC');
logTicks(axesC, xC, 2754, 2833);
impTicks.forEach((v, i) => {
  addTick(axesC, 236, yC(Math.log10(v)), 259, yC(Math.log10(v)));
  addLabel(axesC, 207, yC(Math.log10(v)) + 21, impTickLabels[i], 'end');
  minorMultipliers.forEach(m => {
    if (Math.log10(v * m) < 4.6) addTick(axesC, 236, yC(Math.log10(v * m)), 248, yC(Math.log10(v * m)));
  });
});
const mC = document.getElementById('mC');
const fC = document.getElementById('fC');
addSeries(mC, freqs, z21, xC, yC, 'star', 8.2, '#e36f10', false);
addSeries(mC, freqs, z30, xC, yC, 'pent', 9.5, '#00aeb0', false);
addSeries(mC, freqs, z42, xC, yC, 'circle', 8.5, '#7c70cc', false);
addSeries(mC, freqs, z56, xC, yC, 'square', 8.6, '#a89080', false);
addSeries(mC, freqs, z65, xC, yC, 'circle', 8.5, '#f03a40', false);
addSeries(mC, freqs, z70, xC, yC, 'triup', 9.5, '#4a9aa8', false);
addSeries(mC, freqs, z80, xC, yC, 'tridown', 10, '#e2a40e', false);
addFit(fC, fitFreqs, fz21, xC, yC, '#e3701a', 4);
addFit(fC, fitFreqs, fz30, xC, yC, '#00aaa5', 4);
addFit(fC, fitFreqs, fz42, xC, yC, '#7b6fcc', 4);
addFit(fC, fitFreqs, fz56, xC, yC, '#a08a78', 4);
addFit(fC, fitFreqs, fz80, xC, yC, '#dc9c10', 4);
addFit(fC, fitFreqs, fz70, xC, yC, '#2a9aa0', 4);
addFit(fC, fitFreqs, fz65, xC, yC, '#f0303a', 4);
const legC = document.getElementById('legC');
addMarker(legC, 'star', 1285, 1547, 7.5, '#e36f10', false);
addMarker(legC, 'pent', 1569, 1547, 9, '#00aeb0', false);
addMarker(legC, 'circle', 1285, 1636, 8.5, '#7c70cc', false);
addMarker(legC, 'square', 1569, 1636, 7, '#a89080', false);
addMarker(legC, 'circle', 1285, 1724, 8.5, '#f03a40', false);
addMarker(legC, 'triup', 1569, 1724, 9, '#4a9aa8', false);
addMarker(legC, 'tridown', 1285, 1814, 10, '#e2a40e', false);
</script>
</svg>
</body>
</html>
